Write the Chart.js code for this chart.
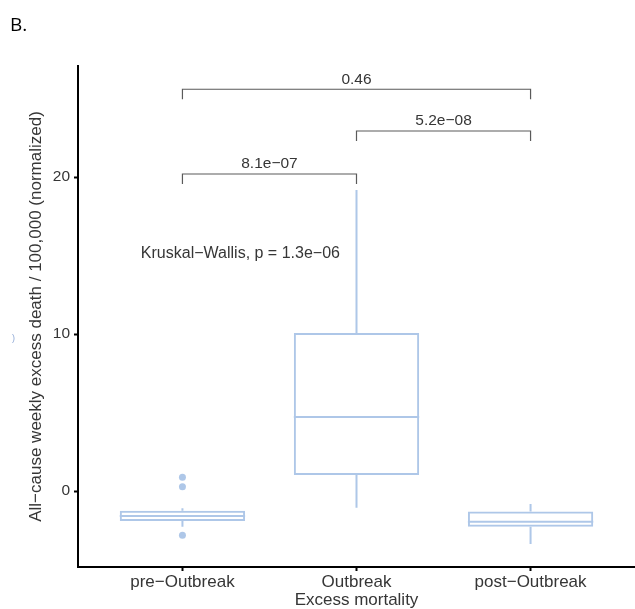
<!DOCTYPE html>
<html>
<head>
<meta charset="utf-8">
<script src="https://cdn.jsdelivr.net/npm/chart.js@4/dist/chart.umd.min.js"></script>
<style>
  html, body { margin: 0; padding: 0; background: #ffffff; }
  #wrap { position: relative; width: 635px; height: 609px; }
  #panel { position: absolute; left: 10px; top: 15px; font: 19px/19px "Open Sans", sans-serif; color: #000; }
  #frag { position: absolute; left: 12px; top: 333px; font: 9px "Liberation Sans", sans-serif; color: #8fa9d6; }
</style>
</head>
<body>
<div id="wrap">
  <canvas id="boxChart" width="635" height="609"></canvas>
  <div id="panel">B.</div>
  <div id="frag">)</div>
</div>
<script>
/* ---------------- DATA ---------------- */

const groups = ["pre\u2212Outbreak", "Outbreak", "post\u2212Outbreak"];
const groupPos = [1, 2, 3];

const q1 = [-1.91, 1.02, -2.27];
const q3 = [-1.25, 10.06, -1.30];
const medians = [-1.59, 4.71, -1.95];
const whiskerLow = [-2.27, -1.06, -3.38];
const whiskerHigh = [-1.10, 19.17, -0.83];

const outlierPos = [1, 1, 1];
const outlierValues = [0.87, 0.27, -2.82];

const yTicks = [0, 10, 20];

const bracketFrom = [1, 2, 1];
const bracketTo = [2, 3, 3];
const bracketY = [20.19, 22.93, 25.59];
const bracketLabels = ["8.1e\u221207", "5.2e\u221208", "0.46"];

const testLabel = "Kruskal\u2212Wallis, p = 1.3e\u221206";
const testX = 1.333;
const testY = 15.1;

const boxColor = "#aec7e8";
const textColor = "#363636";
const fontFamily = "'Liberation Sans', Arial, sans-serif";

/* ---------------- BOX PARTS ---------------- */

const boxParts = {
    id: "boxParts",
    afterDatasetsDraw(chart) {
        const ctx = chart.ctx;
        const x = chart.scales.x;
        const y = chart.scales.y;
        const bars = chart.getDatasetMeta(0).data;

        ctx.save();
        ctx.strokeStyle = boxColor;
        ctx.lineWidth = 2;

        bars.forEach((bar, i) => {
            const cx = x.getPixelForValue(groupPos[i]);
            const half = bar.width / 2;

            ctx.beginPath();
            ctx.moveTo(cx, y.getPixelForValue(q3[i]));
            ctx.lineTo(cx, y.getPixelForValue(whiskerHigh[i]));
            ctx.moveTo(cx, y.getPixelForValue(q1[i]));
            ctx.lineTo(cx, y.getPixelForValue(whiskerLow[i]));
            ctx.stroke();

            const my = y.getPixelForValue(medians[i]);
            ctx.beginPath();
            ctx.moveTo(cx - half, my);
            ctx.lineTo(cx + half, my);
            ctx.stroke();
        });

        /* comparison brackets */
        ctx.strokeStyle = "#5a5a5a";
        ctx.lineWidth = 1.2;
        ctx.fillStyle = textColor;
        ctx.font = "15.5px " + fontFamily;
        ctx.textAlign = "center";
        ctx.textBaseline = "middle";

        bracketY.forEach((v, i) => {
            const x1 = x.getPixelForValue(bracketFrom[i]);
            const x2 = x.getPixelForValue(bracketTo[i]);
            const by = y.getPixelForValue(v);
            ctx.beginPath();
            ctx.moveTo(x1, by + 10);
            ctx.lineTo(x1, by);
            ctx.lineTo(x2, by);
            ctx.lineTo(x2, by + 10);
            ctx.stroke();
            ctx.fillText(bracketLabels[i], (x1 + x2) / 2, by - 10);
        });

        ctx.font = "16px " + fontFamily;
        ctx.fillText(testLabel, x.getPixelForValue(testX), y.getPixelForValue(testY));
        ctx.restore();
    }
};

/* ---------------- CHART ---------------- */

const ctx = document.getElementById("boxChart").getContext("2d");

new Chart(ctx, {
    type: "bar",
    data: {
        datasets: [
            {
                type: "bar",
                data: groupPos.map((p, i) => ({ x: p, y: [q1[i], q3[i]] })),
                backgroundColor: "rgba(255,255,255,0)",
                borderColor: boxColor,
                borderWidth: 2,
                borderSkipped: false,
                barPercentage: 0.72,
                categoryPercentage: 1
            },
            {
                type: "scatter",
                data: outlierPos.map((p, i) => ({ x: p, y: outlierValues[i] })),
                backgroundColor: boxColor,
                borderWidth: 0,
                pointRadius: 3.5
            }
        ]
    },
    options: {
        responsive: false,
        animation: false,
        events: [],
        layout: {
            autoPadding: false,
            padding: { top: 66, right: 0, bottom: 0, left: 0 }
        },
        plugins: {
            legend: { display: false },
            tooltip: { enabled: false }
        },
        scales: {
            x: {
                type: "linear",
                min: 0.4,
                max: 3.6,
                offset: false,
                afterBuildTicks: scale => {
                    scale.ticks = groupPos.map(v => ({ value: v }));
                },
                afterFit: scale => {
                    scale.height = 42;
                    scale.paddingLeft = 0;
                    scale.paddingRight = 0;
                },
                ticks: {
                    callback: value => groups[value - 1],
                    color: textColor,
                    padding: 1,
                    maxRotation: 0,
                    font: { family: fontFamily, size: 17 }
                },
                grid: {
                    display: true,
                    offset: false,
                    drawOnChartArea: false,
                    tickLength: 4,
                    tickColor: "#000000",
                    tickWidth: 2
                },
                border: { color: "#000000", width: 2 },
                title: {
                    display: true,
                    text: "Excess mortality",
                    color: textColor,
                    padding: { top: 0, bottom: 0 },
                    font: { family: fontFamily, size: 17, lineHeight: 1 }
                }
            },
            y: {
                min: -4.84,
                max: 27.07,
                afterBuildTicks: scale => {
                    scale.ticks = yTicks.map(v => ({ value: v }));
                },
                afterFit: scale => {
                    scale.width = 78;
                    scale.paddingTop = 0;
                    scale.paddingBottom = 0;
                },
                ticks: {
                    color: textColor,
                    padding: 4,
                    font: { family: fontFamily, size: 15.5 }
                },
                grid: {
                    display: true,
                    drawOnChartArea: false,
                    tickLength: 4,
                    tickColor: "#000000",
                    tickWidth: 2
                },
                border: { color: "#000000", width: 2 },
                title: {
                    display: true,
                    text: "All\u2212cause weekly excess death / 100,000 (normalized)",
                    color: textColor,
                    padding: { top: 26, bottom: 0 },
                    font: { family: fontFamily, size: 17, lineHeight: 1.2 }
                }
            }
        }
    },
    plugins: [boxParts]
});
</script>
</body>
</html>
